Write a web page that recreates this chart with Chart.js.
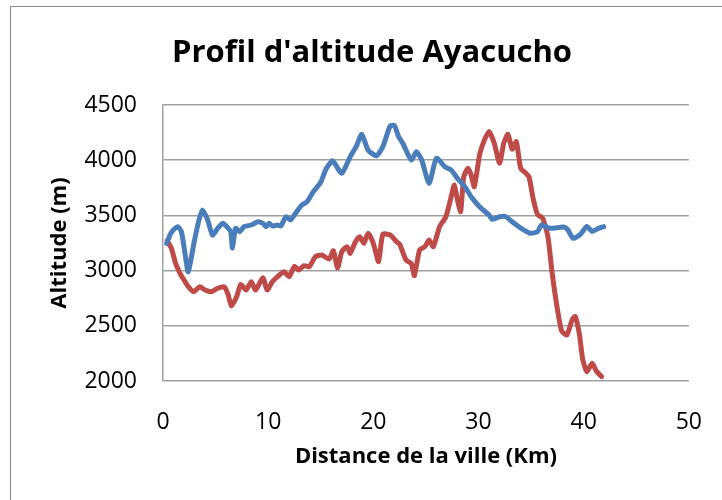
<!DOCTYPE html>
<html><head><meta charset="utf-8">
<script src="https://cdn.jsdelivr.net/npm/chart.js@4.4.1/dist/chart.umd.min.js"></script>
<style>
html,body{margin:0;padding:0;background:#fff;overflow:hidden;width:722px;height:500px}
#frame{position:absolute;left:10px;top:6px;width:740px;height:520px;border:1px solid #8a8a8a;box-sizing:border-box}
#wrap{position:absolute;left:0;top:0;width:722px;height:500px}
</style></head><body>
<div id="frame"></div>
<div id="wrap"><canvas id="c" width="722" height="500"></canvas></div>
<script>
const chartTitle = "Profil d'altitude Ayacucho";
const xTitle = "Distance de la ville (Km)";
const yTitle = "Altitude (m)";
const xTicks = [0, 10, 20, 30, 40, 50];
const yTicks = [2000, 2500, 3000, 3500, 4000, 4500];

const blueDist = [0.35,0.7,1.0,1.4,1.75,2.1,2.4,3.0,3.4,3.75,4.25,4.7,5.2,5.7,6.2,6.45,6.6,6.9,7.3,7.7,8.4,9.0,9.5,9.8,10.1,10.4,10.9,11.2,11.7,12.1,12.6,13.2,13.7,14.3,15.0,15.5,16.1,16.4,17.0,17.8,18.4,18.9,19.5,20.3,20.9,21.6,22.0,22.4,22.8,23.6,24.1,24.6,25.3,26.0,26.8,27.4,28.0,28.7,29.3,30.1,31.0,31.3,32.0,32.6,33.2,33.8,34.3,34.9,35.6,36.0,36.8,38.1,38.5,39.0,39.7,40.3,40.8,41.4,41.9];
const blueAlt = [3247,3330,3370,3398,3352,3150,2990,3277,3450,3549,3458,3322,3383,3428,3383,3352,3205,3383,3352,3398,3413,3443,3428,3398,3428,3404,3413,3404,3488,3458,3519,3594,3624,3715,3800,3920,3995,3960,3881,4032,4130,4235,4092,4040,4122,4310,4315,4213,4153,4002,4077,4002,3791,4017,3941,3911,3836,3760,3669,3579,3504,3465,3488,3488,3443,3400,3368,3338,3352,3413,3383,3395,3368,3292,3330,3400,3355,3383,3398];

const redDist = [0.4,0.8,1.15,1.45,1.7,2.1,2.4,2.9,3.5,4.0,4.6,5.2,5.8,6.2,6.5,7.0,7.4,7.9,8.4,8.8,9.5,9.9,10.4,10.9,11.5,12.0,12.5,12.9,13.4,13.9,14.5,15.1,15.8,16.2,16.6,17.0,17.5,17.8,18.3,18.7,19.1,19.5,20.0,20.5,20.9,21.6,22.2,22.5,23.1,23.6,23.9,24.4,24.9,25.3,25.7,26.3,26.9,27.4,27.7,28.0,28.3,28.6,29.0,29.3,29.6,30.1,30.5,31.0,31.5,32.0,32.4,32.8,33.2,33.6,34.0,34.5,34.8,35.2,35.6,36.1,36.6,37.0,37.5,37.9,38.4,38.9,39.2,39.6,39.9,40.3,40.8,41.2,41.7];
const redAlt = [3270,3202,3081,3010,2960,2900,2854,2809,2854,2824,2809,2840,2854,2780,2680,2764,2875,2824,2900,2824,2935,2824,2900,2945,2990,2945,3040,3005,3045,3035,3126,3141,3105,3180,3025,3171,3217,3157,3262,3307,3247,3338,3247,3081,3330,3322,3262,3240,3096,3066,2955,3187,3217,3277,3217,3398,3488,3669,3775,3640,3534,3851,3927,3866,3760,4047,4168,4260,4153,3972,4153,4235,4100,4168,3930,3881,3850,3650,3510,3474,3307,2980,2650,2455,2417,2553,2583,2420,2200,2085,2160,2090,2040];

const toPts = (xs, ys) => xs.map((x, i) => ({x: x, y: ys[i]}));
const FONT = "'Open Sans', 'Noto Sans', sans-serif";

const titlePlugin = {
  id: 'customTitle',
  afterDraw(chart) {
    const ctx = chart.ctx;
    ctx.save();
    ctx.font = "bold 31px " + FONT;
    ctx.fillStyle = '#000';
    ctx.textAlign = 'center';
    ctx.textBaseline = 'alphabetic';
    ctx.fillText(chartTitle, 372, 62);
    ctx.restore();
  }
};

new Chart(document.getElementById('c'), {
  type: 'line',
  data: {
    datasets: [
      {label: 'Bleu', data: toPts(blueDist, blueAlt), borderColor: '#4a7ebb', borderWidth: 5, pointRadius: 0, tension: 0.2, fill: false, borderCapStyle: 'round', borderJoinStyle: 'round'},
      {label: 'Rouge', data: toPts(redDist, redAlt), borderColor: '#be4b48', borderWidth: 5, pointRadius: 0, tension: 0.2, fill: false, borderCapStyle: 'round', borderJoinStyle: 'round'}
    ]
  },
  options: {
    responsive: false,
    animation: false,
    layout: {padding: {left: 0, right: 29, top: 105, bottom: 0}},
    plugins: {legend: {display: false}, title: {display: false}, tooltip: {enabled: false}},
    scales: {
      x: {
        type: 'linear', min: 0, max: 50,
        afterBuildTicks: s => { s.ticks = xTicks.map(v => ({value: v})); },
        afterFit: s => { s.height = 119; },
        grid: {display: false},
        border: {display: false},
        ticks: {color: '#000', font: {family: FONT, size: 23}, padding: 20, maxRotation: 0, callback: v => String(v)},
        title: {display: true, text: xTitle, color: '#000', font: {family: FONT, size: 22, weight: 'bold'}, padding: {top: 0, bottom: 30}}
      },
      y: {
        type: 'linear', min: 2000, max: 4500,
        afterBuildTicks: s => { s.ticks = yTicks.map(v => ({value: v})); },
        afterFit: s => { s.width = 163; },
        grid: {color: '#a0a0a0', lineWidth: 1.5, drawTicks: false},
        border: {display: true, color: '#a0a0a0', width: 1.5},
        ticks: {color: '#000', font: {family: FONT, size: 23}, padding: 26, callback: v => String(v)},
        title: {display: true, text: yTitle, color: '#000', font: {family: FONT, size: 22, weight: 'bold'}, padding: {top: 47, bottom: 0}}
      }
    }
  },
  plugins: [titlePlugin]
});
</script>
</body></html>
